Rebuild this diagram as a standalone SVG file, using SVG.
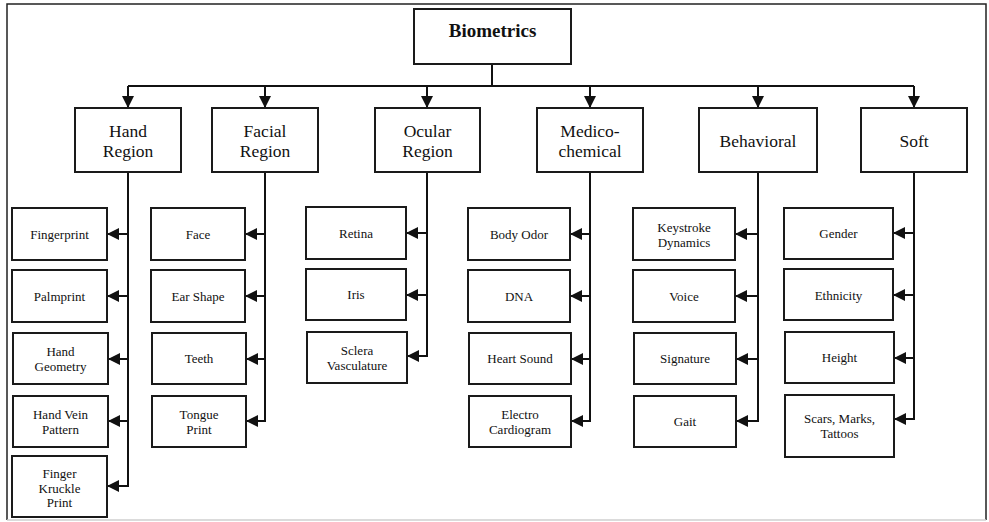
<svg xmlns="http://www.w3.org/2000/svg" width="989" height="522" viewBox="0 0 989 522">
  <defs>
    <marker id="arrow" markerUnits="userSpaceOnUse" markerWidth="12" markerHeight="12" refX="12" refY="6" orient="auto">
      <path d="M0,0 L12,6 L0,12 Z" fill="#111"/>
    </marker>
    <style>
      .box { fill: #fff; stroke: #1a1a1a; stroke-width: 2; }
      .wire { fill: none; stroke: #111; stroke-width: 2; }
      .arr { fill: none; stroke: #111; stroke-width: 2; marker-end: url(#arrow); }
      text { font-family: "Liberation Serif", "Times New Roman", serif; fill: #111; text-anchor: middle; }
      .root { font-size: 19px; font-weight: bold; }
      .cat { font-size: 17.5px; }
      .leaf { font-size: 13px; }
    </style>
  </defs>

  <rect width="989" height="522" fill="#fff"/>
  <!-- outer frame -->
  <path d="M7,520 V4 H986 V520" fill="none" stroke="#222" stroke-width="1.5"/>
  <line x1="7" y1="520" x2="986" y2="520" stroke="#cfcfcf" stroke-width="1.5"/>

  <!-- connectors -->
  <g id="connectors">
    <path class="wire" d="M492,64 V86 M128,86 H914"/>
    <path class="arr" d="M128,86 V108"/>
    <path class="arr" d="M265,86 V108"/>
    <path class="arr" d="M427,86 V108"/>
    <path class="arr" d="M590,86 V108"/>
    <path class="arr" d="M758,86 V108"/>
    <path class="arr" d="M914,86 V108"/>

    <!-- hand region -->
    <path class="wire" d="M128,172 V487"/>
    <path class="arr" d="M128,234 H107"/>
    <path class="arr" d="M128,296 H107"/>
    <path class="arr" d="M128,359 H108"/>
    <path class="arr" d="M128,421 H108"/>
    <path class="arr" d="M128,486 H107"/>

    <!-- facial region -->
    <path class="wire" d="M265,172 V422"/>
    <path class="arr" d="M265,234 H245"/>
    <path class="arr" d="M265,296 H245"/>
    <path class="arr" d="M265,359 H246"/>
    <path class="arr" d="M265,421 H246"/>

    <!-- ocular region -->
    <path class="wire" d="M427,172 V357"/>
    <path class="arr" d="M427,233 H406"/>
    <path class="arr" d="M427,295 H406"/>
    <path class="arr" d="M427,356 H407"/>

    <!-- medico-chemical -->
    <path class="wire" d="M590,172 V422"/>
    <path class="arr" d="M590,234 H570"/>
    <path class="arr" d="M590,296 H570"/>
    <path class="arr" d="M590,359 H571"/>
    <path class="arr" d="M590,421 H571"/>

    <!-- behavioral -->
    <path class="wire" d="M758,172 V422"/>
    <path class="arr" d="M758,234 H735"/>
    <path class="arr" d="M758,296 H735"/>
    <path class="arr" d="M758,359 H736"/>
    <path class="arr" d="M758,421 H736"/>

    <!-- soft -->
    <path class="wire" d="M914,172 V420"/>
    <path class="arr" d="M914,233 H893"/>
    <path class="arr" d="M914,295 H893"/>
    <path class="arr" d="M914,358 H894"/>
    <path class="arr" d="M914,419 H894"/>
  </g>

  <!-- root -->
  <g id="biometrics">
    <rect class="box" x="414" y="9" width="157" height="55"/>
    <text class="root" x="492.5" y="37">Biometrics</text>
  </g>

  <!-- categories -->
  <g id="hand-region">
    <rect class="box" x="75" y="108" width="106" height="64"/>
    <text class="cat" x="128" y="137">Hand</text>
    <text class="cat" x="128" y="157">Region</text>
  </g>
  <g id="facial-region">
    <rect class="box" x="212" y="108" width="106" height="64"/>
    <text class="cat" x="265" y="137">Facial</text>
    <text class="cat" x="265" y="157">Region</text>
  </g>
  <g id="ocular-region">
    <rect class="box" x="375" y="108" width="105" height="64"/>
    <text class="cat" x="427.5" y="137">Ocular</text>
    <text class="cat" x="427.5" y="157">Region</text>
  </g>
  <g id="medico-chemical">
    <rect class="box" x="537" y="108" width="106" height="64"/>
    <text class="cat" x="590" y="137">Medico-</text>
    <text class="cat" x="590" y="157">chemical</text>
  </g>
  <g id="behavioral">
    <rect class="box" x="699" y="108" width="118" height="64"/>
    <text class="cat" x="758" y="147">Behavioral</text>
  </g>
  <g id="soft">
    <rect class="box" x="861" y="108" width="106" height="64"/>
    <text class="cat" x="914" y="147">Soft</text>
  </g>

  <!-- hand region leaves -->
  <g id="fingerprint">
    <rect class="box" x="12" y="208" width="95" height="52"/>
    <text class="leaf" x="59.5" y="238.5">Fingerprint</text>
  </g>
  <g id="palmprint">
    <rect class="box" x="12" y="270" width="95" height="52"/>
    <text class="leaf" x="59.5" y="300.5">Palmprint</text>
  </g>
  <g id="hand-geometry">
    <rect class="box" x="13" y="333" width="95" height="51"/>
    <text class="leaf" x="60.5" y="356">Hand</text>
    <text class="leaf" x="60.5" y="371">Geometry</text>
  </g>
  <g id="hand-vein-pattern">
    <rect class="box" x="13" y="396" width="95" height="51"/>
    <text class="leaf" x="60.5" y="419">Hand Vein</text>
    <text class="leaf" x="60.5" y="434">Pattern</text>
  </g>
  <g id="finger-kruckle-print">
    <rect class="box" x="12" y="456" width="95" height="61"/>
    <text class="leaf" x="59.5" y="478">Finger</text>
    <text class="leaf" x="59.5" y="492.5">Kruckle</text>
    <text class="leaf" x="59.5" y="507">Print</text>
  </g>

  <!-- facial region leaves -->
  <g id="face">
    <rect class="box" x="151" y="208" width="94" height="52"/>
    <text class="leaf" x="198" y="238.5">Face</text>
  </g>
  <g id="ear-shape">
    <rect class="box" x="151" y="270" width="94" height="52"/>
    <text class="leaf" x="198" y="300.5">Ear Shape</text>
  </g>
  <g id="teeth">
    <rect class="box" x="152" y="333" width="94" height="51"/>
    <text class="leaf" x="199" y="363">Teeth</text>
  </g>
  <g id="tongue-print">
    <rect class="box" x="152" y="396" width="94" height="51"/>
    <text class="leaf" x="199" y="419">Tongue</text>
    <text class="leaf" x="199" y="434">Print</text>
  </g>

  <!-- ocular region leaves -->
  <g id="retina">
    <rect class="box" x="306" y="207" width="100" height="52"/>
    <text class="leaf" x="356" y="237.5">Retina</text>
  </g>
  <g id="iris">
    <rect class="box" x="306" y="269" width="100" height="51"/>
    <text class="leaf" x="356" y="299">Iris</text>
  </g>
  <g id="sclera-vasculature">
    <rect class="box" x="307" y="332" width="100" height="51"/>
    <text class="leaf" x="357" y="355">Sclera</text>
    <text class="leaf" x="357" y="370">Vasculature</text>
  </g>

  <!-- medico-chemical leaves -->
  <g id="body-odor">
    <rect class="box" x="468" y="208" width="102" height="52"/>
    <text class="leaf" x="519" y="238.5">Body Odor</text>
  </g>
  <g id="dna">
    <rect class="box" x="468" y="270" width="102" height="52"/>
    <text class="leaf" x="519" y="300.5">DNA</text>
  </g>
  <g id="heart-sound">
    <rect class="box" x="469" y="333" width="102" height="51"/>
    <text class="leaf" x="520" y="363">Heart Sound</text>
  </g>
  <g id="electro-cardiogram">
    <rect class="box" x="469" y="396" width="102" height="51"/>
    <text class="leaf" x="520" y="419">Electro</text>
    <text class="leaf" x="520" y="434">Cardiogram</text>
  </g>

  <!-- behavioral leaves -->
  <g id="keystroke-dynamics">
    <rect class="box" x="633" y="208" width="102" height="52"/>
    <text class="leaf" x="684" y="231.5">Keystroke</text>
    <text class="leaf" x="684" y="246.5">Dynamics</text>
  </g>
  <g id="voice">
    <rect class="box" x="633" y="270" width="102" height="52"/>
    <text class="leaf" x="684" y="300.5">Voice</text>
  </g>
  <g id="signature">
    <rect class="box" x="634" y="333" width="102" height="51"/>
    <text class="leaf" x="685" y="363">Signature</text>
  </g>
  <g id="gait">
    <rect class="box" x="634" y="396" width="102" height="51"/>
    <text class="leaf" x="685" y="426">Gait</text>
  </g>

  <!-- soft leaves -->
  <g id="gender">
    <rect class="box" x="784" y="208" width="109" height="51"/>
    <text class="leaf" x="838.5" y="237.5">Gender</text>
  </g>
  <g id="ethnicity">
    <rect class="box" x="784" y="269" width="109" height="51"/>
    <text class="leaf" x="838.5" y="299.5">Ethnicity</text>
  </g>
  <g id="height">
    <rect class="box" x="785" y="332" width="109" height="51"/>
    <text class="leaf" x="839.5" y="362">Height</text>
  </g>
  <g id="scars-marks-tattoos">
    <rect class="box" x="785" y="395" width="109" height="62"/>
    <text class="leaf" x="839.5" y="423">Scars, Marks,</text>
    <text class="leaf" x="839.5" y="438">Tattoos</text>
  </g>
</svg>
